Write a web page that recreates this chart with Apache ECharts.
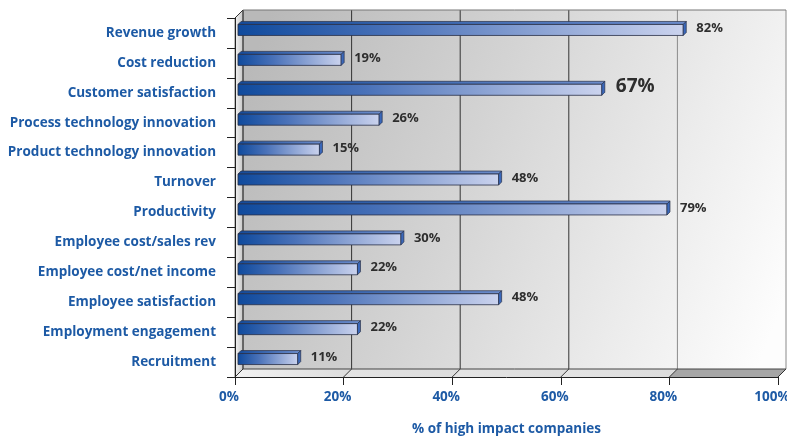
<!DOCTYPE html>
<html>
<head>
<meta charset="utf-8">
<script src="https://cdn.jsdelivr.net/npm/echarts@6/dist/echarts.min.js"></script>
<style>
  html, body { margin: 0; padding: 0; background: #ffffff; }
  #chart { width: 787px; height: 437px; }
</style>
</head>
<body>
<div id="chart"></div>
<script>
// Impact areas, top to bottom
const categories = [
  'Revenue growth',
  'Cost reduction',
  'Customer satisfaction',
  'Process technology innovation',
  'Product technology innovation',
  'Turnover',
  'Productivity',
  'Employee cost/sales rev',
  'Employee cost/net income',
  'Employee satisfaction',
  'Employment engagement',
  'Recruitment'
];
// Share of high impact companies (%)
const shares = [82, 19, 67, 26, 15, 48, 79, 30, 22, 48, 22, 11];
// Value axis ticks (%)
const tickValues = [0, 20, 40, 60, 80, 100];

const calloutCategory = 'Customer satisfaction';
const BLUE = '#1d5aa5';
const FONT = '"Open Sans", "DejaVu Sans", sans-serif';
const DEPTH = 8;          // depth of the walls / floor
const LIFT = 3;           // bars sit slightly behind the front plane
const BAR_H = 11;         // height of the bar front face
const BAR_D = 3;          // bar thickness

const chart = echarts.init(document.getElementById('chart'), null, { renderer: 'canvas' });

// Back wall, left wall, floor and back gridlines of the 3D box
function renderBox(params, api) {
  const cs = params.coordSys;
  const L = cs.x, T = cs.y, R = cs.x + cs.width, B = cs.y + cs.height;
  const D = DEPTH;
  const children = [];
  children.push({
    type: 'rect',
    shape: { x: L + D, y: T - D, width: cs.width, height: cs.height },
    style: {
      fill: new echarts.graphic.LinearGradient(0, 0.2, 1, 0.8, [
        { offset: 0, color: '#b9b9b9' },
        { offset: 0.4, color: '#d3d3d3' },
        { offset: 0.75, color: '#ececec' },
        { offset: 1, color: '#fdfdfd' }
      ])
    }
  });
  children.push({
    type: 'polygon',
    shape: { points: [[L, T], [L + D, T - D], [L + D, B - D], [L, B]] },
    style: {
      fill: new echarts.graphic.LinearGradient(0, 0, 1, 0, [
        { offset: 0, color: '#f6f6f6' },
        { offset: 1, color: '#c4c4c4' }
      ]),
      stroke: '#555', lineWidth: 0.8
    }
  });
  // floor, one slab per tick interval
  for (let k = 0; k < tickValues.length - 1; k++) {
    const xa = api.coord([tickValues[k], 0])[0];
    const xb = api.coord([tickValues[k + 1], 0])[0];
    const dark = tickValues[k] >= 80;
    children.push({
      type: 'polygon',
      shape: { points: [[xa, B], [xa + D, B - D], [xb + D, B - D], [xb, B]] },
      style: {
        fill: dark ? '#a6a6a6' : new echarts.graphic.LinearGradient(0, 0, 1, 0, [
          { offset: 0, color: k === 0 ? '#f2f2f2' : '#e4e4e4' },
          { offset: 1, color: '#dcdcdc' }
        ])
      }
    });
  }
  tickValues.forEach(function (v) {
    const x = api.coord([v, 0])[0];
    const col = v >= 80 ? '#8a8a8a' : '#333';
    children.push({
      type: 'line',
      shape: { x1: x + D, y1: T - D, x2: x + D, y2: B - D },
      style: { stroke: col, lineWidth: 1 }
    });
    children.push({
      type: 'line',
      shape: { x1: x, y1: B, x2: x + D, y2: B - D },
      style: { stroke: '#333', lineWidth: 1 }
    });
  });
  children.push({
    type: 'line',
    shape: { x1: L + D, y1: T - D, x2: R + D, y2: T - D },
    style: { stroke: '#777', lineWidth: 1 }
  });
  children.push({
    type: 'line',
    shape: { x1: L + D, y1: B - D, x2: R + D, y2: B - D },
    style: { stroke: '#444', lineWidth: 1 }
  });
  children.push({
    type: 'line',
    shape: { x1: L, y1: T, x2: L + D, y2: T - D },
    style: { stroke: '#333', lineWidth: 1 }
  });
  return { type: 'group', children: children };
}

// 3D bar: front face, top face, end cap and value label
function renderBar(params, api) {
  const v = api.value(0);
  const idx = api.value(1);
  const start = api.coord([0, idx]);
  const end = api.coord([v, idx]);
  const x0 = start[0] + LIFT;
  const x1 = end[0] + LIFT;
  const yTop = start[1] - LIFT - BAR_H / 2;
  const yBot = yTop + BAR_H;
  const d = BAR_D;
  const big = categories[idx] === calloutCategory;
  return {
    type: 'group',
    children: [
      {
        type: 'polygon',
        shape: { points: [[x0, yTop], [x0 + d, yTop - d], [x1 + d, yTop - d], [x1, yTop]] },
        style: {
          fill: new echarts.graphic.LinearGradient(0, 0, 1, 0, [
            { offset: 0, color: '#164c9b' },
            { offset: 1, color: '#6c8ccb' }
          ]),
          stroke: '#2a3048', lineWidth: 0.7
        }
      },
      {
        type: 'rect',
        shape: { x: x0, y: yTop, width: x1 - x0, height: BAR_H },
        style: {
          fill: new echarts.graphic.LinearGradient(0, 0, 1, 0, [
            { offset: 0, color: '#0f4a9d' },
            { offset: 0.35, color: '#4a72b9' },
            { offset: 1, color: '#cbd3ee' }
          ]),
          stroke: '#2a3048', lineWidth: 0.8
        }
      },
      {
        type: 'polygon',
        shape: { points: [[x1, yTop], [x1 + d, yTop - d], [x1 + d, yBot - d], [x1, yBot]] },
        style: { fill: '#3a68bb', stroke: '#2a3048', lineWidth: 0.7 }
      },
      {
        type: 'text',
        style: {
          x: x1 + d + (big ? 11 : 10),
          y: (yTop - d + yBot) / 2 + (big ? -2 : 0),
          text: v + '%',
          fill: '#2e2e2e',
          font: 'bold ' + (big ? 19 : 13) + 'px ' + FONT,
          align: 'left',
          verticalAlign: 'middle'
        }
      }
    ]
  };
}

chart.setOption({
  animation: false,
  backgroundColor: '#ffffff',
  grid: { left: 235, right: 9, top: 18, bottom: 60, containLabel: false, outerBoundsMode: 'none' },
  xAxis: {
    type: 'value',
    min: 0,
    max: 100,
    interval: 20,
    z: 10,
    axisLine: { show: true, lineStyle: { color: '#222', width: 1 } },
    axisTick: { show: true, length: 8, lineStyle: { color: '#222' } },
    splitLine: { show: false },
    axisLabel: {
      formatter: '{value}%',
      color: BLUE,
      fontFamily: FONT,
      fontWeight: 'bold',
      fontSize: 13.5,
      margin: 13,
      padding: [0, 12, 0, 0]
    },
    name: '% of high impact companies',
    nameLocation: 'middle',
    nameGap: 45,
    nameTextStyle: { color: BLUE, fontFamily: FONT, fontWeight: 'bold', fontSize: 13.5 }
  },
  yAxis: {
    type: 'category',
    data: categories,
    inverse: true,
    z: 10,
    axisLine: { show: true, lineStyle: { color: '#222', width: 1 } },
    axisTick: { show: true, length: 8, lineStyle: { color: '#222' } },
    splitLine: { show: false },
    axisLabel: {
      color: BLUE,
      fontFamily: FONT,
      fontWeight: 'bold',
      fontSize: 13.5,
      margin: 19
    }
  },
  series: [
    {
      type: 'custom',
      z: 1,
      silent: true,
      renderItem: renderBox,
      data: [[0, 0]],
      encode: { x: 0, y: 1 }
    },
    {
      type: 'custom',
      z: 3,
      renderItem: renderBar,
      data: shares.map(function (v, i) { return [v, i]; }),
      encode: { x: 0, y: 1 }
    }
  ]
});
</script>
</body>
</html>
